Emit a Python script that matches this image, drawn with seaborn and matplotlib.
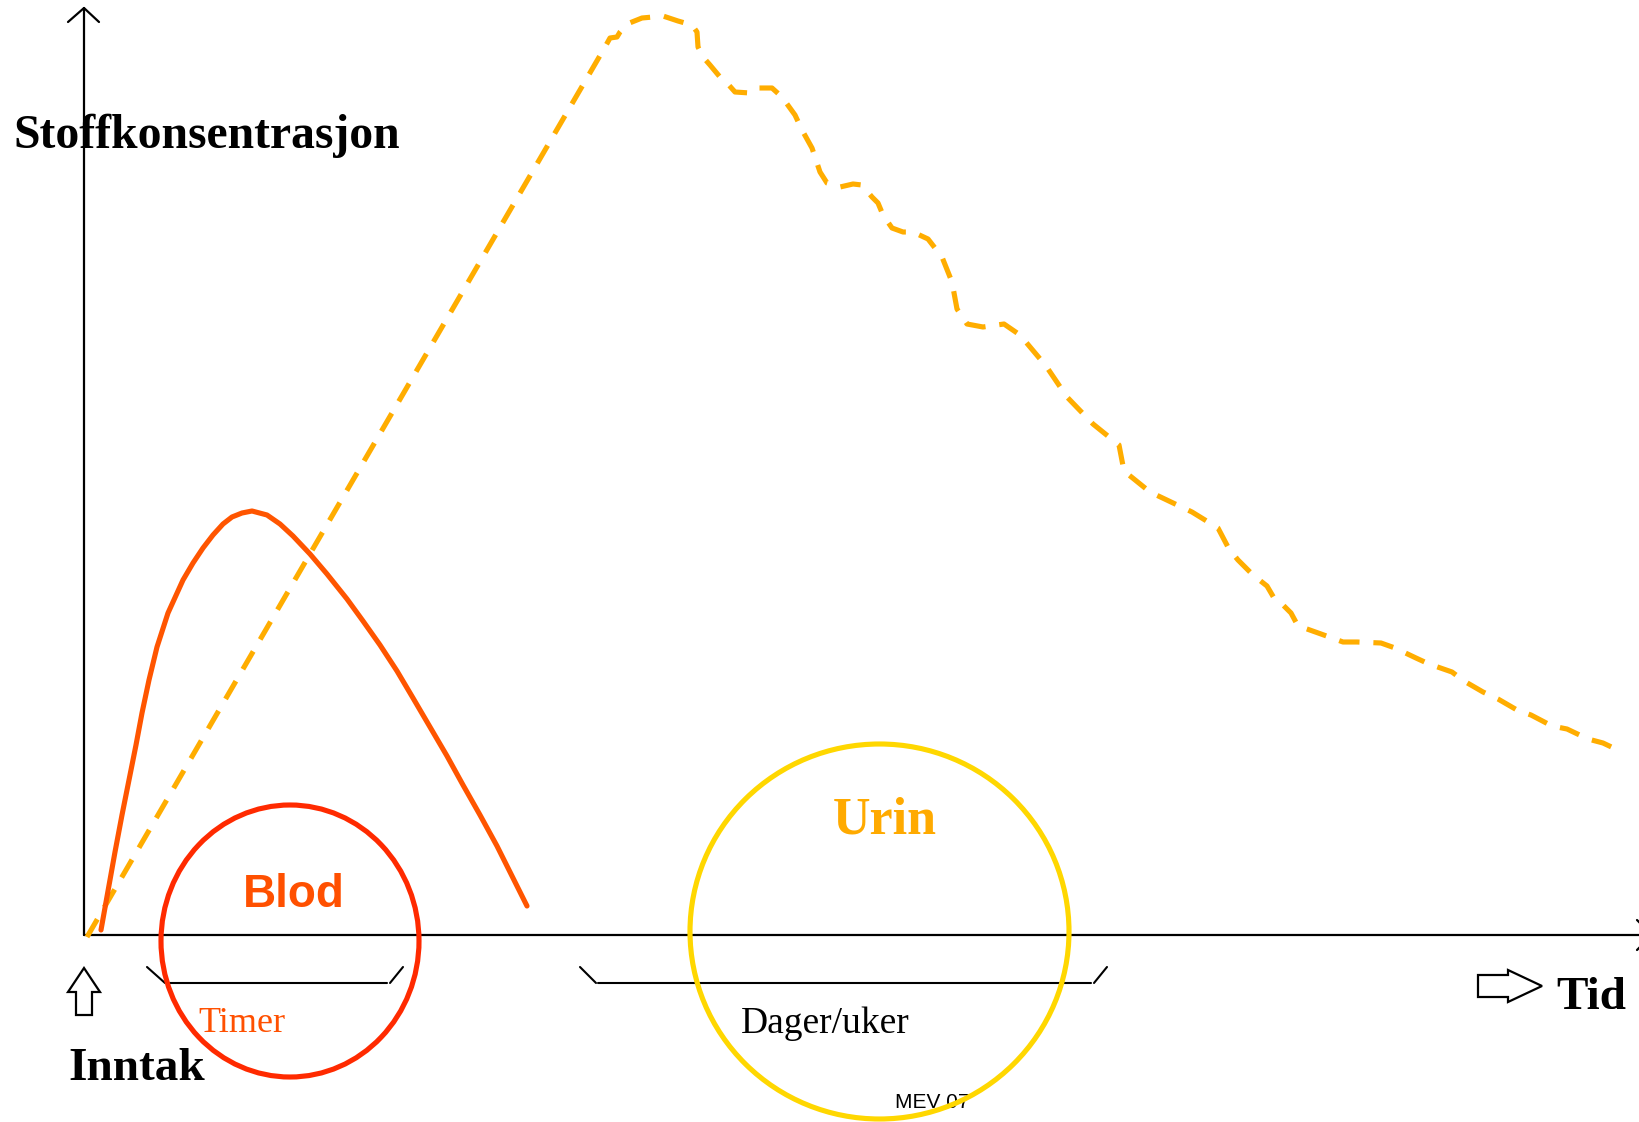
import matplotlib
matplotlib.use("Agg")
import matplotlib.pyplot as plt
import seaborn as sns
from matplotlib.patches import Ellipse, Polygon

# blodkurve (tid, konsentrasjon)
blod_tid = [17, 24, 31, 38, 45, 52, 58, 65, 73, 84, 99, 109, 119, 129, 139, 148, 158, 168,
            183, 196, 209, 226, 243, 263, 279, 296, 313, 329, 346, 363, 379, 396, 413, 443]
blod_konsentrasjon = [5, 44, 83, 120, 155, 190, 222, 255, 288, 322, 355, 372, 387, 400, 411, 418,
                      422, 424, 420, 411, 399, 381, 361, 336, 314, 290, 264, 237, 208, 179, 150,
                      120, 89, 29]

# urinkurve (stiplet)
urin_tid = [3, 521, 526, 533, 536, 543, 558, 569, 579, 594, 608, 613, 614, 619, 626, 636, 643, 651,
            666, 674, 688, 698, 711, 718, 728, 733, 736, 743, 756, 769, 778, 788, 794, 799, 808, 819,
            829, 844, 858, 868, 873, 883, 899, 920, 936, 962, 983, 1009, 1035, 1040, 1066, 1108,
            1134, 1145, 1154, 1169, 1183, 1190, 1197, 1207, 1214, 1223, 1237, 1259, 1273, 1297,
            1311, 1332, 1345, 1368, 1380, 1399, 1414, 1433, 1447, 1468, 1483, 1504, 1519, 1538]
urin_konsentrasjon = [-2, 888, 897, 898, 903, 911, 917, 918, 919, 914, 910, 903, 888, 878, 870, 858,
                      852, 843, 842, 847, 847, 838, 820, 805, 787, 772, 763, 752, 748, 751, 750, 738,
                      732, 720, 707, 703, 703, 696, 678, 653, 626, 611, 608, 611, 600, 569, 538, 511,
                      490, 464, 443, 423, 407, 386, 375, 360, 349, 337, 332, 322, 309, 306, 301, 293,
                      293, 292, 287, 277, 271, 263, 254, 243, 236, 225, 220, 209, 206, 196, 192, 183]

sns.set_theme(style="white")
plt.rcParams['font.family'] = ['Liberation Serif', 'DejaVu Serif']

fig = plt.figure(figsize=(16.4, 11.22), dpi=100)
ax = fig.add_axes([0, 0, 1, 1])
ax.set_xlim(-84, 1556)
ax.set_ylim(-187, 935)
ax.axis('off')

svart = 'black'
# akser
ax.plot([0, 0], [0, 927], color=svart, lw=1.6, zorder=2)
ax.plot([-16, 0, 15], [913, 927, 913], color=svart, lw=1.6, zorder=2)
ax.plot([0, 1600], [0, 0], color=svart, lw=1.6, zorder=2)
ax.plot([1553, 1568, 1553], [15, 0, -15], color=svart, lw=1.6, zorder=2)

# klammer under x-aksen
for seg in ([63, 81], [-32, -48]), ([86, 303], [-48, -48]), ([306, 319], [-48, -32]), \
           ([496, 512], [-32, -48]), ([514, 1007], [-48, -48]), ([1010, 1023], [-48, -32]):
    ax.plot(seg[0], seg[1], color=svart, lw=1.5, zorder=2)

# kurver
sns.lineplot(x=urin_tid, y=urin_konsentrasjon, ax=ax, color='#FFAD00', lw=3.7,
             linestyle=(0, (4, 2.7)), dash_joinstyle='round', sort=False, estimator=None, zorder=3)
sns.lineplot(x=blod_tid, y=blod_konsentrasjon, ax=ax, color='#FF5500', lw=3.7,
             solid_joinstyle='round', sort=False, estimator=None, zorder=4)

# hule piler
ax.add_patch(Polygon([(-8, -80), (8, -80), (8, -57), (16, -57), (0, -33), (-16, -57), (-8, -57)],
                     closed=True, facecolor='white', edgecolor=svart, lw=1.6, zorder=3))
ax.add_patch(Polygon([(1394, -40), (1424, -40), (1424, -35), (1458, -51), (1424, -67), (1424, -62),
                      (1394, -62)], closed=True, facecolor='white', edgecolor=svart, lw=1.6, zorder=3))

# tekster
ax.text(-71, 787, 'Stoffkonsentrasjon', fontsize=34.3, fontweight='bold', color=svart, va='baseline', zorder=1)
ax.text(-16, -145, 'Inntak', fontsize=34, fontweight='bold', color=svart, va='baseline')
ax.text(1472, -74, 'Tid', fontsize=34, fontweight='bold', color=svart, va='baseline')
ax.text(159, 28, 'Blod', fontsize=33, fontweight='bold', color='#FF5000', va='baseline',
        family=['Liberation Sans', 'DejaVu Sans'])
ax.text(114, -97, 'Timer', fontsize=26, color='#FF5000', va='baseline')
ax.text(749, 102, 'Urin', fontsize=37.5, fontweight='bold', color='#FFAA00', va='baseline')
ax.text(657, -98, 'Dager/uker', fontsize=27, color=svart, va='baseline')
ax.text(811, -173, 'MEV 07', fontsize=15, color=svart, va='baseline',
        family=['Liberation Sans', 'DejaVu Sans'], zorder=1)

# sirkler
ax.add_patch(Ellipse((206, -6), 258, 272, fill=False, edgecolor='#FF2A00', lw=3.7, zorder=5))
ax.add_patch(Ellipse((795.5, 3.5), 379, 375, fill=False, edgecolor='#FFD700', lw=3.7, zorder=5))

fig.savefig('out.png', dpi=100)
